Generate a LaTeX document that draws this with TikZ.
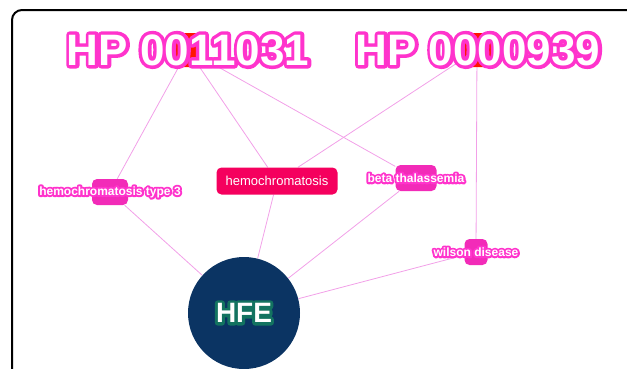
\documentclass[tikz,border=0pt]{standalone}
\usepackage{fontspec}
\setmainfont{Liberation Sans}
\usepackage{tikz}
\usetikzlibrary{
  positioning,
  backgrounds
}
\definecolor{HotMagenta}{HTML}{FF33CC}
\definecolor{TermPink}{HTML}{F22BB8}
\definecolor{DiseaseRed}{HTML}{F5005E}
\definecolor{HpRed}{HTML}{FF1500}
\definecolor{EdgePink}{HTML}{F2A0E8}
\definecolor{GeneNavy}{HTML}{0B3463}
\definecolor{GeneGreen}{HTML}{137360}
% stroked copy behind, plain white text on top
\newcommand{\halotext}[3]{%
  \leavevmode\rlap{\special{pdf:literal direct 2 Tr #1 w 1 J 1 j}\textcolor{#2}{#3}\special{pdf:literal direct 0 Tr}}#3}
\tikzset{
  % HPO term anchor
  hpnode/.style={
    rectangle, rounded corners=5pt, fill=HpRed,
    minimum width=25pt, minimum height=34pt, inner sep=0pt
  },
  % Big outlined HPO caption
  hptext/.style={font=\fontsize{44}{44}\selectfont\bfseries, text=white, inner sep=0pt},
  % Small disease anchor
  termnode/.style={
    rectangle, rounded corners=5pt, fill=TermPink,
    minimum width=#1, minimum height=26pt, inner sep=0pt
  },
  % Outlined disease caption
  termtext/.style={font=\fontsize{12}{12}\selectfont\bfseries, text=white, inner sep=0pt},
  % Highlighted disease box
  dzbox/.style={
    rectangle, rounded corners=5pt, fill=DiseaseRed, text=white,
    minimum width=121pt, minimum height=27pt, inner sep=0pt,
    font=\fontsize{13}{13}\selectfont
  },
  % Gene circle
  gene/.style={
    circle, fill=GeneNavy, minimum size=112pt, inner sep=0pt,
    text=white, font=\fontsize{28}{28}\selectfont\bfseries
  },
  % Link
  link/.style={draw=EdgePink, line width=0.8pt}
}
\begin{document}
\begin{tikzpicture}[x=1pt, y=-1pt]
  \useasboundingbox (0,0) rectangle (627,368);

  % Anchors
  \node[hpnode] (hp1031) at (188,50) {};
  \node[hpnode, minimum width=30pt] (hp0939) at (477,50) {};
  \node[termnode=36pt] (hemotype) at (110,192) {};
  \node[dzbox] (hemo) at (277,181) {hemochromatosis};
  \node[termnode=41pt] (beta) at (416,178) {};
  \node[termnode=23pt] (wilson) at (476,252) {};
  \node[gene] (hfe) at (244,313) {\halotext{6}{GeneGreen}{HFE}};

  % Captions
  \node[hptext] (hp1031txt) at (188,50) {\halotext{7}{HotMagenta}{HP 0011031}};
  \node[hptext] (hp0939txt) at (478,50) {\halotext{7}{HotMagenta}{HP 0000939}};
  \node[termtext] (hemotypetxt) at (hemotype) {\halotext{4}{HotMagenta}{hemochromatosis type 3}};
  \node[termtext] (betatxt) at (beta) {\halotext{4}{HotMagenta}{beta thalassemia}};
  \node[termtext] (wilsontxt) at (wilson) {\halotext{4}{HotMagenta}{wilson disease}};

  \begin{scope}[on background layer]
    \draw[line width=2pt, rounded corners=10pt] (12,10) rectangle (680,420);
    \draw[link] (hp1031) -- (hemotype);
    \draw[link] (hp1031) -- (hemo);
    \draw[link] (hp1031) -- (beta);
    \draw[link] (hp0939) -- (hemo);
    \draw[link] (hp0939) -- (wilson);
    \draw[link] (hemotype) -- (hfe);
    \draw[link] (hemo) -- (hfe);
    \draw[link] (beta) -- (hfe);
    \draw[link] (wilson) -- (hfe);
  \end{scope}
\end{tikzpicture}
\end{document}
